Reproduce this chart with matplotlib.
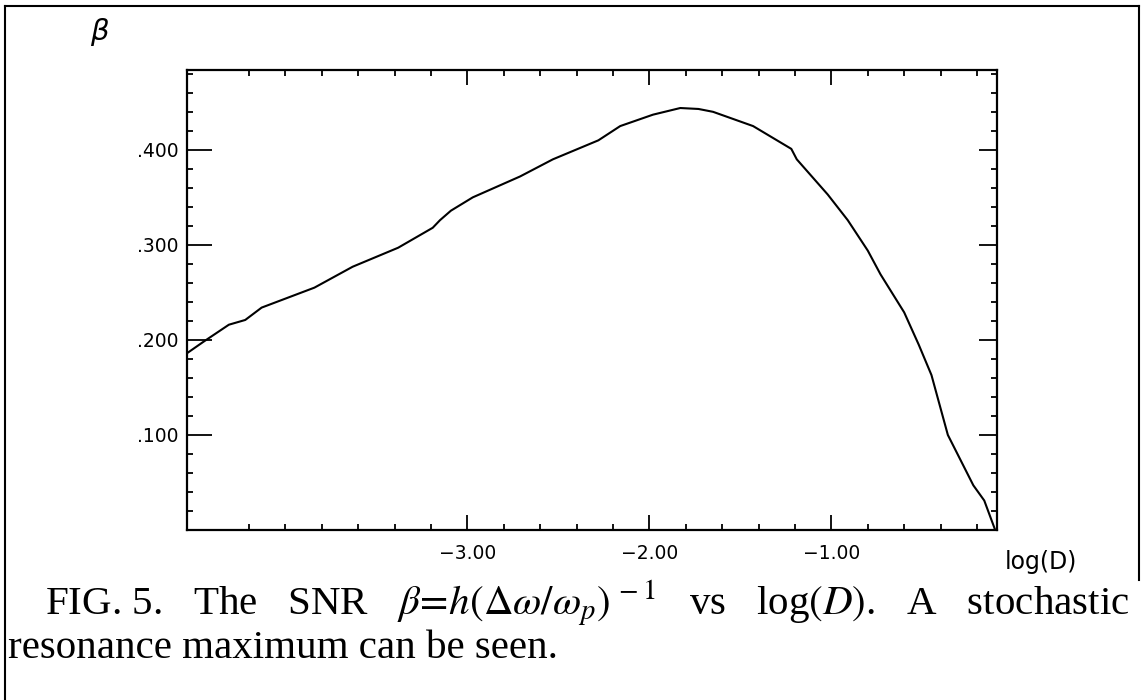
import matplotlib
matplotlib.use("Agg")
import matplotlib.pyplot as plt
from matplotlib.lines import Line2D
from matplotlib.ticker import FixedLocator

# curve: log(D) vs SNR beta
log_d = [-4.54, -4.45, -4.31, -4.22, -4.13, -3.84, -3.63, -3.38, -3.19, -3.15,
         -3.09, -2.97, -2.71, -2.53, -2.28, -2.16, -1.98, -1.83, -1.73, -1.65,
         -1.43, -1.22, -1.19, -1.02, -0.91, -0.80, -0.73, -0.60, -0.52, -0.45,
         -0.36, -0.22, -0.16, -0.10]
beta = [0.186, 0.198, 0.216, 0.221, 0.234, 0.255, 0.277, 0.297, 0.318, 0.326,
        0.336, 0.350, 0.372, 0.390, 0.410, 0.425, 0.437, 0.444, 0.443, 0.440,
        0.425, 0.401, 0.390, 0.353, 0.326, 0.294, 0.269, 0.229, 0.195, 0.163,
        0.100, 0.047, 0.031, 0.0]

x_ticks = [-3.0, -2.0, -1.0]
x_tick_labels = ['\u22123.00', '\u22122.00', '\u22121.00']
x_minor = [-4.2, -4.0, -3.8, -3.6, -3.4, -3.2, -2.8, -2.6, -2.4, -2.2,
           -1.8, -1.6, -1.4, -1.2, -0.8, -0.6, -0.4, -0.2]
y_ticks = [0.1, 0.2, 0.3, 0.4]
y_tick_labels = ['.100', '.200', '.300', '.400']
y_minor = [0.02, 0.04, 0.06, 0.08, 0.12, 0.14, 0.16, 0.18, 0.22, 0.24, 0.26,
           0.28, 0.32, 0.34, 0.36, 0.38, 0.42, 0.44, 0.46, 0.48]

plt.rcParams['mathtext.fontset'] = 'stix'

fig = plt.figure(figsize=(11.42, 7.0), dpi=100)
ax = fig.add_axes([187 / 1142, 1 - 530 / 700, (997 - 187) / 1142, (530 - 70) / 700])

ax.plot(log_d, beta, color='black', linewidth=1.5)
ax.set_xlim(-4.54, -0.09)
ax.set_ylim(0.0, 0.484)

ax.xaxis.set_major_locator(FixedLocator(x_ticks))
ax.xaxis.set_minor_locator(FixedLocator(x_minor))
ax.yaxis.set_major_locator(FixedLocator(y_ticks))
ax.yaxis.set_minor_locator(FixedLocator(y_minor))
ax.set_xticklabels(x_tick_labels)
ax.set_yticklabels(y_tick_labels)

for s in ax.spines.values():
    s.set_linewidth(1.6)

ax.tick_params(which='both', direction='in', top=True, right=True,
               width=1.3, labelsize=13.5, colors='black')
ax.tick_params(axis='x', which='major', length=11, pad=10)
ax.tick_params(axis='y', which='major', length=18, pad=6)
ax.tick_params(which='minor', length=4)
# shorter major ticks on the right side
for t in ax.yaxis.get_major_ticks():
    t.tick2line.set_markersize(13)

fig.text(1005 / 1142, 1 - 562 / 700, 'log(D)', fontsize=17,
         ha='left', va='center')
fig.text(100 / 1142, 1 - 32 / 700, r'$\beta$', fontsize=21,
         ha='center', va='center', math_fontfamily='dejavusans')

# caption (justified in the original, hence the wide gaps)
cap_font = 'Liberation Serif'
fig.text(45 / 1142, 1 - 603 / 700,
         r'FIG. 5.   The   SNR   $\beta\!=\!h(\Delta\omega/\omega_p)^{\,-1}$   vs   log$(D)$.   A   stochastic',
         fontsize=29.5, family=cap_font, ha='left', va='center')
fig.text(8 / 1142, 1 - 649 / 700, 'resonance maximum can be seen.',
         fontsize=29.5, family=cap_font, ha='left', va='center')

# border of the scanned figure
fig.add_artist(Line2D([5 / 1142, 5 / 1142], [0, 1 - 6 / 700],
                      transform=fig.transFigure, color='black', linewidth=1.5))
fig.add_artist(Line2D([5 / 1142, 1139 / 1142], [1 - 6 / 700, 1 - 6 / 700],
                      transform=fig.transFigure, color='black', linewidth=1.5))
fig.add_artist(Line2D([1139 / 1142, 1139 / 1142], [1 - 580 / 700, 1 - 6 / 700],
                      transform=fig.transFigure, color='black', linewidth=1.5))

fig.savefig('out.png', dpi=100)
